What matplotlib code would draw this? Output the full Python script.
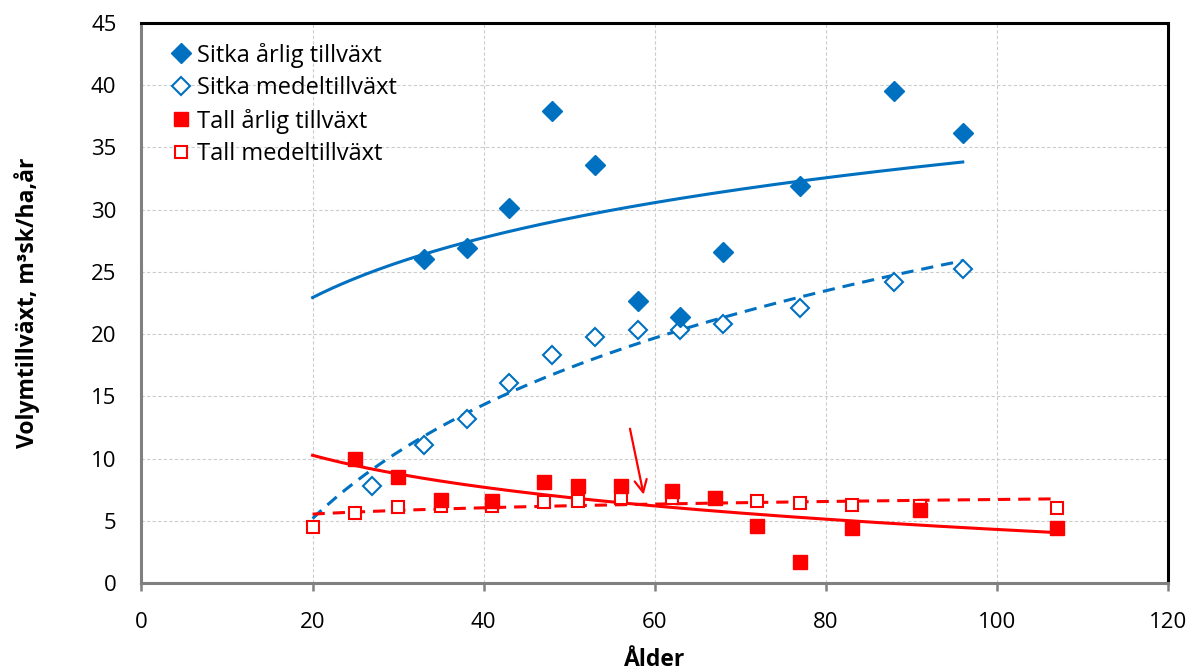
import numpy as np
import matplotlib.pyplot as plt

plt.rcParams['font.family'] = ['Open Sans', 'DejaVu Sans']

# Sitka spruce
sitka_age = [33, 38, 43, 48, 53, 58, 63, 68, 77, 88, 96]
sitka_annual = [26.0, 26.9, 30.1, 37.9, 33.6, 22.7, 21.4, 26.6, 31.9, 39.5, 36.2]
sitka_mean_age = [27, 33, 38, 43, 48, 53, 58, 63, 68, 77, 88, 96]
sitka_mean = [7.8, 11.1, 13.2, 16.1, 18.3, 19.8, 20.3, 20.3, 20.8, 22.1, 24.2, 25.2]

# Scots pine (tall)
tall_age = [25, 30, 35, 41, 47, 51, 56, 62, 67, 72, 77, 83, 91, 107]
tall_annual = [10.0, 8.5, 6.7, 6.6, 8.1, 7.8, 7.8, 7.4, 6.8, 4.6, 1.7, 4.4, 5.9, 4.4]
tall_mean_age = [20, 25, 30, 35, 41, 47, 51, 56, 62, 67, 72, 77, 83, 91, 107]
tall_mean = [4.5, 5.6, 6.1, 6.2, 6.2, 6.5, 6.6, 6.8, 6.8, 6.8, 6.6, 6.4, 6.25, 6.2, 6.0]

# trendline ranges (age) and annotation arrow
sitka_trend_range = (20, 96)
tall_trend_range = (20, 107)
arrow_start = (57.1, 12.4)
arrow_end = (58.7, 7.1)

BLUE = '#0070C0'
RED = '#FF0000'


def log_trend(x, y, x_range):
    """Excel-style logarithmic trendline y = a*ln(x) + b."""
    a, b = np.polyfit(np.log(x), y, 1)
    xs = np.linspace(x_range[0], x_range[1], 200)
    return xs, a * np.log(xs) + b


fig = plt.figure(figsize=(11.92, 6.72), dpi=100)
ax = fig.add_axes([0.1187, 0.1324, 0.8612, 0.8334])

# trendlines
xs, ys = log_trend(sitka_age, sitka_annual, sitka_trend_range)
ax.plot(xs, ys, color=BLUE, lw=2.2, zorder=3)
xs, ys = log_trend(sitka_mean_age, sitka_mean, sitka_trend_range)
ax.plot(xs, ys, color=BLUE, lw=2.2, linestyle=(0, (4, 2.6)), zorder=3)
xs, ys = log_trend(tall_age, tall_annual, tall_trend_range)
ax.plot(xs, ys, color=RED, lw=2.2, zorder=3)
xs, ys = log_trend(tall_mean_age, tall_mean, tall_trend_range)
ax.plot(xs, ys, color=RED, lw=2.2, linestyle=(0, (4, 2.6)), zorder=3)

# markers
ax.plot(sitka_age, sitka_annual, 'D', ms=10.5, color=BLUE, mec=BLUE,
        mew=1, linestyle='None', label='Sitka årlig tillväxt', zorder=5)
ax.plot(sitka_mean_age, sitka_mean, 'D', ms=9.5, mfc='white', mec=BLUE,
        mew=1.5, linestyle='None', label='Sitka medeltillväxt', zorder=4)
ax.plot(tall_age, tall_annual, 's', ms=10, color=RED, mec=RED,
        mew=1, linestyle='None', label='Tall årlig tillväxt', zorder=5)
ax.plot(tall_mean_age, tall_mean, 's', ms=9, mfc='white', mec=RED,
        mew=1.5, linestyle='None', label='Tall medeltillväxt', zorder=4)

ax.annotate('', xy=arrow_end, xytext=arrow_start,
            arrowprops=dict(arrowstyle='->', color=RED, lw=1.6,
                            mutation_scale=22, shrinkA=0, shrinkB=0),
            zorder=6)

ax.set_xlim(0, 120)
ax.set_ylim(0, 45)
ax.set_xticks(np.arange(0, 121, 20))
ax.set_yticks(np.arange(0, 46, 5))
ax.grid(True, color='#cccccc', linestyle=(0, (3, 2)), lw=0.8)
ax.set_axisbelow(True)

for side in ['left', 'bottom']:
    ax.spines[side].set_color('#808080')
    ax.spines[side].set_linewidth(2.2)
for side in ['top', 'right']:
    ax.spines[side].set_color('black')
    ax.spines[side].set_linewidth(2.2)

ax.tick_params(axis='x', direction='out', length=6, width=1.8, color='#808080',
               labelsize=16, pad=15)
ax.tick_params(axis='y', length=0, labelsize=16, pad=18)

ax.set_xlabel('Ålder', fontsize=16.5, fontweight='bold', labelpad=11)
ax.set_ylabel('Volymtillväxt, m³sk/ha,år', fontsize=16.5, fontweight='bold', labelpad=37)

ax.legend(loc='upper left', bbox_to_anchor=(0.016, 0.99), frameon=False,
          fontsize=17, handlelength=0.75, handletextpad=0.3, labelspacing=0.36,
          borderaxespad=0.2)

plt.savefig('out.png', dpi=100)
